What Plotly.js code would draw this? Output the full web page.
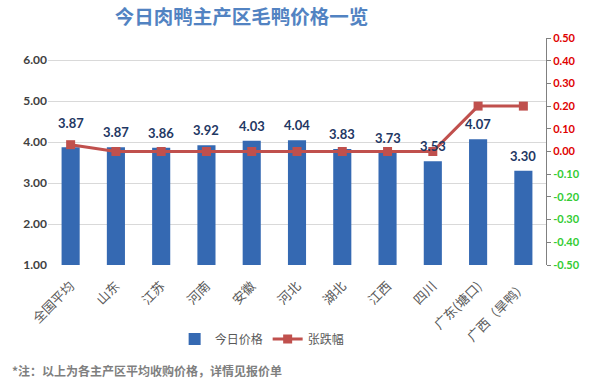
<!DOCTYPE html>
<html><head><meta charset="utf-8">
<script src="https://cdn.plot.ly/plotly-3.0.1.min.js"></script>
<style>html,body{margin:0;padding:0;background:#fff}</style>
</head><body>
<div id="chart" style="width:589px;height:392px"></div>
<script>
const categories = ["全国平均","山东","江苏","河南","安徽","河北","湖北","江西","四川","广东(塘口)","广西（旱鸭）"];
const prices = [3.87,3.87,3.86,3.92,4.03,4.04,3.83,3.73,3.53,4.07,3.30];
const changes = [0.03,0.00,0.00,0.00,0.00,0.00,0.00,0.00,0.00,0.20,0.20];
const leftTicks = [1,2,3,4,5,6];
const rightTicks = [0.5,0.4,0.3,0.2,0.1,0,-0.1,-0.2,-0.3,-0.4,-0.5];

const numFont = "Lato, 'Liberation Sans', sans-serif";
const cjkFont = "'Noto Sans CJK SC', sans-serif";

const barTrace = {
  type: 'bar', name: '今日价格', x: categories, y: prices,
  base: 0, width: 0.4,
  marker: {color: '#3569b2', line: {width: 0}},
  hoverinfo: 'skip'
};
const lineTrace = {
  type: 'scatter', mode: 'lines+markers', name: '张跌幅', x: categories, y: changes,
  yaxis: 'y2',
  line: {color: '#c0504d', width: 3},
  marker: {symbol: 'square', size: 9, color: '#c0504d'},
  hoverinfo: 'skip'
};

const annotations = categories.map((c, i) => ({
  x: c, y: prices[i], xref: 'x', yref: 'y',
  text: '<b>' + prices[i].toFixed(2) + '</b>',
  showarrow: false, yanchor: 'middle', yshift: i === 0 ? 24 : 15,
  font: {family: numFont, size: 13, color: '#1f3864'}
}));
annotations.push({
  xref: 'paper', yref: 'paper', x: -0.076, y: -0.463, xanchor: 'left', yanchor: 'middle',
  text: '<b>*注：以上为各主产区平均收购价格，详情见报价单</b>', showarrow: false,
  font: {family: cjkFont, size: 12, color: '#7f7f7f'}
});

const layout = {
  width: 589, height: 392,
  margin: {l: 48, r: 43, t: 38, b: 127},
  paper_bgcolor: '#fff', plot_bgcolor: 'rgba(0,0,0,0)',
  title: {
    text: '<b>今日肉鸭主产区毛鸭价格一览</b>',
    x: 0.41, xanchor: 'center', y: 0.955, yanchor: 'middle',
    font: {family: cjkFont, size: 19.5, color: '#5283c2'}
  },
  xaxis: {
    type: 'category', tickangle: -45, showgrid: false, zeroline: false,
    showline: false, ticks: '', ticklabelstandoff: 10,
    tickfont: {family: cjkFont, size: 13, color: '#595959'},
    range: [-0.5, categories.length - 0.5]
  },
  yaxis: {
    range: [1, 6.537], tickvals: leftTicks, ticktext: leftTicks.map(v => '<b>' + v.toFixed(2) + '</b>'),
    showgrid: true, gridcolor: '#d9d9d9', gridwidth: 1, zeroline: false, showline: false,
    tickfont: {family: numFont, size: 12, color: '#404040'}, ticks: ''
  },
  yaxis2: {
    overlaying: 'y', side: 'right', range: [-0.5, 0.5],
    tickvals: rightTicks,
    ticktext: rightTicks.map(v => '<b><span style="color:' + (v < 0 ? '#33cc33' : '#e00000') + '">' + v.toFixed(2) + '</span></b>'),
    showgrid: false, zeroline: false, showline: true, linecolor: '#808080', linewidth: 1,
    ticks: 'outside', ticklen: 4, tickcolor: '#808080',
    tickfont: {family: numFont, size: 11}
  },
  showlegend: true,
  legend: {
    orientation: 'h', x: 0.43, xanchor: 'center', y: -0.326, yanchor: 'middle',
    font: {family: cjkFont, size: 12, color: '#595959'},
    bgcolor: 'rgba(0,0,0,0)'
  },
  annotations: annotations
};

Plotly.newPlot('chart', [barTrace, lineTrace], layout, {displayModeBar: false, staticPlot: true});
</script>
</body></html>
